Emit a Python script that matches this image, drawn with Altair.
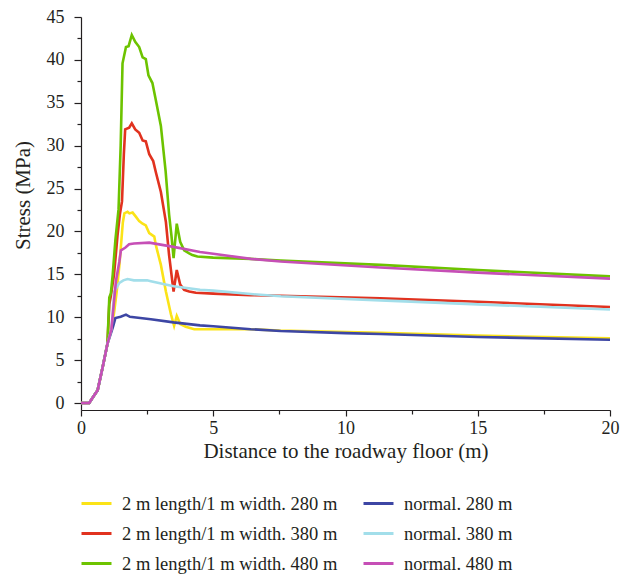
import altair as alt
import pandas as pd

series_names = [
    "2 m length/1 m width. 280 m",
    "2 m length/1 m width. 380 m",
    "2 m length/1 m width. 480 m",
    "normal. 280 m",
    "normal. 380 m",
    "normal. 480 m",
]
series_colors = ["#FBE317", "#E1321F", "#6DC300", "#3D46A4", "#A2DEEA", "#C64FB6"]

# common rise near the floor
rise_x = [0, 0.31, 0.5, 0.63, 0.82, 1.0]
rise_y = [0, 0, 0.9, 1.5, 4.2, 6.9]

y280_x = rise_x + [1.15, 1.25, 1.35, 1.45, 1.58, 1.64, 1.76, 1.83, 1.95, 2.08, 2.2, 2.33, 2.45, 2.58, 2.77, 2.83, 3.02, 3.21, 3.4, 3.52, 3.62, 3.75, 3.96, 4.28, 5, 6.42, 7.5, 11.32, 15, 20]
y280_y = rise_y + [8.6, 10.5, 13.0, 16.0, 21.0, 22.1, 22.3, 22.1, 22.2, 21.7, 21.2, 20.9, 20.7, 19.8, 19.4, 18.4, 16.1, 13.0, 10.35, 9.0, 10.15, 9.2, 8.9, 8.6, 8.6, 8.6, 8.45, 8.19, 7.85, 7.53]

y380_x = rise_x + [1.07, 1.13, 1.25, 1.38, 1.47, 1.55, 1.62, 1.67, 1.82, 1.92, 2.05, 2.2, 2.33, 2.45, 2.58, 2.73, 2.83, 3.02, 3.21, 3.33, 3.5, 3.62, 3.75, 3.9, 4.09, 4.34, 5, 6.42, 7.55, 11.32, 15, 20]
y380_y = rise_y + [11.5, 12.5, 15.0, 19.5, 22.0, 23.5, 29.0, 31.9, 32.1, 32.6, 31.9, 31.5, 30.6, 30.5, 29.0, 28.2, 26.9, 24.6, 21.1, 17.25, 13.0, 15.5, 13.8, 13.2, 13.0, 12.85, 12.75, 12.57, 12.5, 12.2, 11.8, 11.2]

y480_x = rise_x + [1.07, 1.13, 1.2, 1.3, 1.42, 1.5, 1.57, 1.7, 1.8, 1.92, 2.05, 2.2, 2.33, 2.45, 2.55, 2.7, 2.83, 3.02, 3.2, 3.33, 3.42, 3.5, 3.62, 3.75, 3.9, 4.09, 4.21, 4.4, 5, 6.42, 7.55, 11.32, 15, 20]
y480_y = rise_y + [12.3, 12.8, 15.0, 19.0, 22.6, 30.0, 39.6, 41.5, 41.6, 42.9, 42.1, 41.5, 40.3, 40.1, 38.2, 37.3, 35.3, 32.3, 27.0, 22.0, 19.5, 16.9, 20.9, 18.8, 17.8, 17.45, 17.25, 17.07, 16.95, 16.8, 16.6, 16.1, 15.5, 14.76]

n280_x = rise_x + [1.2, 1.3, 1.5, 1.7, 1.85, 2.0, 2.64, 3.5, 4.5, 5, 6.42, 7.55, 10, 11.32, 15, 20]
n280_y = rise_y + [8.8, 9.9, 10.05, 10.3, 10.05, 10.0, 9.77, 9.4, 9.05, 8.95, 8.6, 8.4, 8.15, 8.04, 7.7, 7.38]

n380_x = rise_x + [1.15, 1.26, 1.45, 1.6, 1.76, 2.0, 2.5, 2.64, 3.5, 4.5, 5, 6.42, 7.55, 11.32, 15, 20]
n380_y = rise_y + [8.6, 13.0, 14.0, 14.3, 14.45, 14.3, 14.3, 14.2, 13.6, 13.2, 13.1, 12.7, 12.45, 11.96, 11.5, 10.9]

n480_x = rise_x + [1.15, 1.32, 1.45, 1.51, 1.67, 1.82, 2.0, 2.58, 3.5, 4.5, 5, 6.42, 7.55, 11.32, 15, 20]
n480_y = rise_y + [8.6, 14.2, 16.5, 17.8, 18.1, 18.5, 18.6, 18.7, 18.2, 17.6, 17.4, 16.8, 16.5, 15.8, 15.2, 14.5]

# drawing order (last on top)
draw = [
    (series_names[0], y280_x, y280_y),
    (series_names[1], y380_x, y380_y),
    (series_names[2], y480_x, y480_y),
    (series_names[3], n280_x, n280_y),
    (series_names[4], n380_x, n380_y),
    (series_names[5], n480_x, n480_y),
]
rows = []
for name, xs, ys in draw:
    for i, (xv, yv) in enumerate(zip(xs, ys)):
        rows.append({"series": name, "x": xv, "y": yv, "i": i})
df = pd.DataFrame(rows)

x_major = [0, 5, 10, 15, 20]
x_minor = [2.5, 7.5, 12.5, 17.5]
y_major = [0, 5, 10, 15, 20, 25, 30, 35, 40, 45]
y_minor = [2.5, 7.5, 12.5, 17.5, 22.5, 27.5, 32.5, 37.5, 42.5]

FONT = "Liberation Serif"
TXT = "#231F20"

xscale = alt.Scale(domain=[0, 20], nice=False, zero=False)
yscale = alt.Scale(domain=[-0.816, 45], nice=False, zero=False)

lines = alt.Chart(df).mark_line(strokeWidth=2.6, clip=True).encode(
    x=alt.X("x:Q", scale=xscale, axis=alt.Axis(
        values=x_major, title="Distance to the roadway floor (m)", orient="bottom",
        tickSize=6, labelPadding=3, titlePadding=3, format="d", labelFlush=False)),
    y=alt.Y("y:Q", scale=yscale, axis=alt.Axis(
        values=y_major, title="Stress (MPa)", orient="left", labelFlush=False,
        tickSize=7, labelPadding=10, format="d", titleX=-48, titleY=178)),
    color=alt.Color("series:N", scale=alt.Scale(domain=series_names, range=series_colors),
                    legend=alt.Legend(title=None, orient="none", legendX=-1, legendY=470,
                                      columns=2, columnPadding=19, rowPadding=4,
                                      symbolType="stroke", symbolSize=900, symbolStrokeWidth=3,
                                      labelFont=FONT, labelFontSize=18.5, labelColor=TXT,
                                      labelLimit=400, labelOffset=9, padding=0)),
    order=alt.Order("i:Q"),
    detail="series:N",
)

minor = alt.Chart(df).mark_line(opacity=0).encode(
    x=alt.X("x:Q", scale=xscale, axis=alt.Axis(
        values=x_minor, labels=False, title=None, domain=False, orient="bottom", tickSize=4)),
    y=alt.Y("y:Q", scale=yscale, axis=alt.Axis(
        values=y_minor, labels=False, title=None, domain=False, orient="left", tickSize=4)),
    detail="series:N",
)

chart = alt.layer(lines, minor).resolve_axis(x="independent", y="independent").properties(
    width=529, height=393,
    autosize=alt.AutoSizeParams(type="none"),
    padding={"left": 73, "top": 9, "right": 14, "bottom": 170},
).configure_view(strokeWidth=0).configure_axis(
    grid=False, domainColor="#231F20", tickColor="#231F20", domainWidth=1.2, tickWidth=1.2,
    labelFont=FONT, labelFontSize=18, labelColor=TXT,
    titleFont=FONT, titleFontSize=21, titleColor=TXT, titleFontWeight="normal",
)

chart.save("out.html", embed_options={"renderer": "svg", "actions": False})
